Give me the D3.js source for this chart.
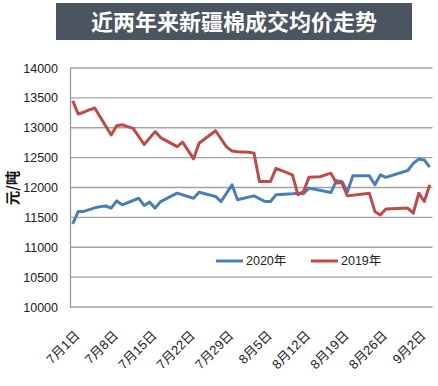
<!DOCTYPE html>
<html>
<head>
<meta charset="utf-8">
<script src="https://cdn.jsdelivr.net/npm/d3@7"></script>
<style>
  body { margin: 0; background: #fff; }
  svg { display: block; font-family: "Liberation Sans", Arial, "Noto Sans CJK SC", sans-serif; }
</style>
</head>
<body>
<div id="chart"></div>
<script>
// data (month-day, yuan/ton)
const dates2020 = ["7-1","7-2","7-3","7-4","7-5","7-6","7-7","7-8","7-9","7-10","7-13","7-14","7-15","7-16","7-17",
  "7-20","7-23","7-24","7-27","7-28","7-30","7-31","8-3","8-5","8-6","8-7","8-10","8-11","8-12","8-13",
  "8-17","8-18","8-19","8-20","8-21","8-24","8-25","8-26","8-27","8-31","9-1","9-2","9-3","9-4"];
const values2020 = [11390,11600,11600,11630,11660,11680,11690,11655,11775,11710,11820,11700,11755,11655,11765,
  11905,11820,11920,11850,11765,12045,11795,11860,11765,11765,11877,11895,11905,11895,11990,
  11915,12115,12100,11930,12195,12195,12045,12210,12170,12285,12405,12475,12460,12340];

const dates2019 = ["7-1","7-2","7-3","7-4","7-5","7-8","7-9","7-10","7-11","7-12","7-14","7-16","7-17",
  "7-20","7-21","7-23","7-24","7-27","7-29","7-30","7-31","8-2","8-3","8-4","8-6","8-7","8-10","8-11",
  "8-12","8-13","8-15","8-17","8-18","8-19","8-20","8-24","8-25","8-26","8-27","8-31","9-1","9-2","9-3","9-4"];
const values2019 = [13450,13230,13260,13300,13330,12880,13035,13050,13020,12990,12720,12935,12835,
  12685,12760,12480,12740,12950,12680,12610,12600,12590,12575,12100,12100,12320,12210,11880,
  11930,12170,12180,12240,12075,12085,11860,11905,11600,11540,11640,11655,11570,11905,11765,12045];

const tickDates = ["7-1","7-8","7-15","7-22","7-29","8-5","8-12","8-19","8-26","9-2"];
const yTicks = [10000,10500,11000,11500,12000,12500,13000,13500,14000];

const W = 438, H = 386;
const margin = { top: 68, right: 5.5, bottom: 79, left: 70 };

const parse = (s) => { const [m, d] = s.split("-").map(Number); return new Date(Date.UTC(2020, m - 1, d)); };
const mid = (s) => d3.utcHour.offset(parse(s), 12);

const svg = d3.select("#chart").append("svg").attr("width", W).attr("height", H);

// title banner
svg.append("rect").attr("x", 56).attr("y", 3).attr("width", 356).attr("height", 37).attr("fill", "#4b5461");
svg.append("text").attr("x", 234).attr("y", 30).attr("text-anchor", "middle")
  .attr("fill", "#fff").style("font-family", "'Noto Sans CJK SC'").style("font-weight", "bold")
  .style("font-size", "22px").text("近两年来新疆棉成交均价走势");

const x = d3.scaleUtc()
  .domain([parse("7-1"), parse("9-5")])
  .range([margin.left, W - margin.right]);

const y = d3.scaleLinear()
  .domain([10000, 14000])
  .range([H - margin.bottom, margin.top]);

// gridlines
svg.append("g").selectAll("line").data(yTicks).join("line")
  .attr("x1", margin.left).attr("x2", W - margin.right)
  .attr("y1", (d) => y(d)).attr("y2", (d) => y(d))
  .attr("stroke", "#a3a3a3").attr("stroke-width", 1.3);

// left axis
const yAxis = svg.append("g").attr("transform", `translate(${margin.left},0)`)
  .call(d3.axisLeft(y).tickValues(yTicks).tickSize(0).tickPadding(12).tickFormat(d3.format("d")));
yAxis.select(".domain").attr("stroke", "#999").attr("stroke-width", 1.3);
yAxis.selectAll("text").style("font-size", "12.5px").attr("fill", "#222")
  .style("font-family", "'Liberation Sans', Arial");

// bottom axis labels
const xAxis = svg.append("g").attr("transform", `translate(0,${H - margin.bottom})`)
  .call(d3.axisBottom(x).tickValues(tickDates.map(mid)).tickSize(0)
    .tickFormat((d) => `${d.getUTCMonth() + 1}月${d.getUTCDate()}日`));
xAxis.select(".domain").remove();
xAxis.selectAll("text")
  .attr("text-anchor", "end").attr("fill", "#222")
  .attr("dy", "0.35em").attr("y", 0)
  .attr("transform", "translate(4,26) rotate(-45)")
  .style("font-size", "13px")
  .style("font-family", "'Liberation Sans', Arial, 'Noto Sans CJK SC'");

// y axis title
svg.append("text")
  .attr("transform", "translate(18,188) rotate(-90)")
  .attr("text-anchor", "middle").attr("fill", "#111")
  .style("font-weight", "bold").style("font-size", "14.5px")
  .style("font-family", "'Noto Sans CJK SC'")
  .text("元/吨");

const line = d3.line().x((d) => x(mid(d[0]))).y((d) => y(d[1]));

const series = [
  { name: "2020年", color: "#4a7ebb", dates: dates2020, values: values2020 },
  { name: "2019年", color: "#be4b48", dates: dates2019, values: values2019 }
];

svg.append("g").selectAll("path").data(series).join("path")
  .attr("d", (s) => line(s.dates.map((d, i) => [d, s.values[i]])))
  .attr("fill", "none").attr("stroke", (s) => s.color)
  .attr("stroke-width", 3).attr("stroke-linejoin", "round");

// legend
const legend = svg.append("g").attr("transform", "translate(216,261)");
const item = legend.selectAll("g").data(series).join("g")
  .attr("transform", (d, i) => `translate(${i * 95},0)`);
item.append("line").attr("x1", 0).attr("x2", 27).attr("y1", 0).attr("y2", 0)
  .attr("stroke", (d) => d.color).attr("stroke-width", 3);
item.append("text").attr("x", 30).attr("dy", "0.35em").attr("fill", "#222")
  .style("font-size", "12.5px").text((d) => d.name);
</script>
</body>
</html>
